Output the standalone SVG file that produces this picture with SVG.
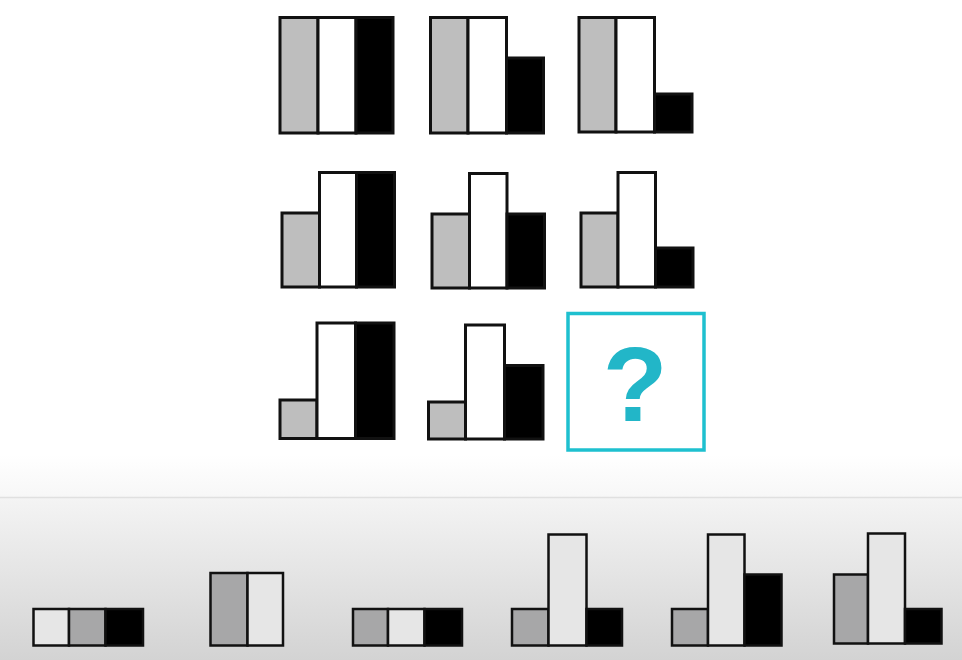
<svg xmlns="http://www.w3.org/2000/svg" width="962" height="660" viewBox="0 0 962 660">
<defs>
<linearGradient id="topband" x1="0" y1="0" x2="0" y2="1">
<stop offset="0" stop-color="#ffffff"/>
<stop offset="1" stop-color="#f7f7f7"/>
</linearGradient>
<linearGradient id="bottomband" x1="0" y1="0" x2="0" y2="1">
<stop offset="0" stop-color="#f4f4f4"/>
<stop offset="1" stop-color="#d3d3d3"/>
</linearGradient>
<style>
.g{fill:#bebebe;stroke:#111;stroke-width:3}
.w{fill:#ffffff;stroke:#111;stroke-width:3}
.b{fill:#000;stroke:#111;stroke-width:3}
.og{fill:#a7a7a8;stroke:#111;stroke-width:2.5}
.ow{fill:#e6e6e6;stroke:#111;stroke-width:2.5}
.ob{fill:#000;stroke:#111;stroke-width:2.5}
.q{fill:#ffffff;stroke:#1ec0cf;stroke-width:3.5}
.qt{font-family:"Liberation Sans",Arial,sans-serif;font-weight:bold;font-size:106px;fill:#22b6c8;text-anchor:middle}
</style>
</defs>
<rect x="0" y="0" width="962" height="660" fill="#ffffff"/>
<rect x="0" y="455" width="962" height="42" fill="url(#topband)"/>
<rect x="0" y="497" width="962" height="163" fill="url(#bottomband)"/>
<line x1="0" y1="497.5" x2="962" y2="497.5" stroke="#e0e0e0" stroke-width="1.5"/>

<g id="r1c1">
<rect class="g" x="280" y="17.5" width="38" height="115.5"/>
<rect class="w" x="318" y="17.5" width="38" height="115.5"/>
<rect class="b" x="356" y="17.5" width="37" height="115.5"/>
</g>
<g id="r1c2">
<rect class="g" x="430.5" y="17.5" width="37.5" height="115.5"/>
<rect class="w" x="468" y="17.5" width="38.5" height="115.5"/>
<rect class="b" x="506.5" y="58" width="37" height="75"/>
</g>
<g id="r1c3">
<rect class="g" x="579" y="17.5" width="37" height="114.5"/>
<rect class="w" x="616" y="17.5" width="38.5" height="114.5"/>
<rect class="b" x="654.5" y="94" width="37.5" height="38"/>
</g>

<g id="r2c1">
<rect class="g" x="282" y="213" width="37.5" height="74"/>
<rect class="w" x="319.5" y="172.5" width="37" height="114.5"/>
<rect class="b" x="356.5" y="172.5" width="38" height="114.5"/>
</g>
<g id="r2c2">
<rect class="g" x="432" y="214" width="37.5" height="74"/>
<rect class="w" x="469.5" y="173.5" width="37.5" height="114.5"/>
<rect class="b" x="507" y="214" width="37.5" height="74"/>
</g>
<g id="r2c3">
<rect class="g" x="581" y="213" width="37" height="74"/>
<rect class="w" x="618" y="172.5" width="37.5" height="114.5"/>
<rect class="b" x="655.5" y="248" width="37.5" height="39"/>
</g>

<g id="r3c1">
<rect class="g" x="280" y="400" width="37" height="38.5"/>
<rect class="w" x="317" y="323" width="38.5" height="115.5"/>
<rect class="b" x="355.5" y="323" width="38.5" height="115.5"/>
</g>
<g id="r3c2">
<rect class="g" x="428.5" y="402" width="37" height="37"/>
<rect class="w" x="465.5" y="325" width="39" height="114"/>
<rect class="b" x="504.5" y="365.5" width="38.5" height="73.5"/>
</g>
<g id="r3c3">
<rect class="q" x="568" y="313.5" width="136" height="136.5"/>
<text class="qt" x="635" y="421">?</text>
</g>

<g id="opt1">
<rect class="ow" x="33.5" y="609" width="35.5" height="36.5"/>
<rect class="og" x="69" y="609" width="36.5" height="36.5"/>
<rect class="ob" x="105.5" y="609" width="37.5" height="36.5"/>
</g>
<g id="opt2">
<rect class="og" x="210.5" y="573" width="37" height="72.5"/>
<rect class="ow" x="247.5" y="573" width="35.5" height="72.5"/>
</g>
<g id="opt3">
<rect class="og" x="353" y="609" width="35" height="36.5"/>
<rect class="ow" x="388" y="609" width="36.5" height="36.5"/>
<rect class="ob" x="424.5" y="609" width="37.5" height="36.5"/>
</g>
<g id="opt4">
<rect class="og" x="512" y="609" width="36.5" height="36.5"/>
<rect class="ow" x="548.5" y="534.5" width="38" height="111"/>
<rect class="ob" x="586.5" y="609" width="35.5" height="36.5"/>
</g>
<g id="opt5">
<rect class="og" x="672" y="609" width="36" height="36.5"/>
<rect class="ow" x="708" y="534.5" width="36.5" height="111"/>
<rect class="ob" x="744.5" y="574.5" width="37" height="71"/>
</g>
<g id="opt6">
<rect class="og" x="834" y="574.5" width="34" height="69"/>
<rect class="ow" x="868" y="533.5" width="37" height="110"/>
<rect class="ob" x="905" y="609" width="36.5" height="34.5"/>
</g>
</svg>
